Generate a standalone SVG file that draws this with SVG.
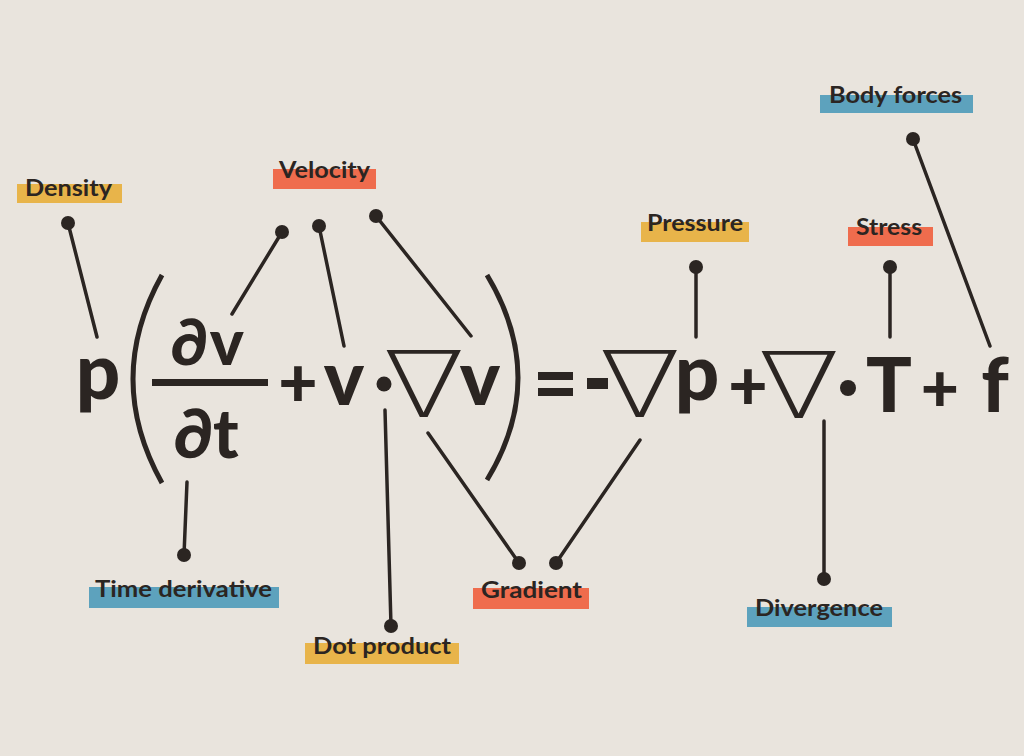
<svg xmlns="http://www.w3.org/2000/svg" width="1024" height="756" viewBox="0 0 1024 756">
<style>
.lbl{font-family:Lato,"Open Sans","DejaVu Sans",sans-serif;font-weight:700;font-size:22px;fill:#2b2522}
.eq{font-family:Lato,"DejaVu Sans",sans-serif;font-weight:900;fill:#2b2522;text-anchor:middle}
.nab{font-family:"DejaVu Sans",sans-serif;font-weight:200;font-size:92px;fill:#2b2522;text-anchor:middle}
.ln{stroke:#2b2522;stroke-width:3.5;fill:none;stroke-linecap:round}
.dot{fill:#2b2522}
.y{fill:#e8b44a}
.o{fill:#ef6c4d}
.b{fill:#5da2bd}
</style>
<rect width="1024" height="756" fill="#e9e4dd"/>
<g id="equation">
<text class="eq" x="98" y="399" font-size="78">p</text>
<path d="M162 275 Q104 379 162 483" fill="none" stroke="#2b2522" stroke-width="5"/>
<text class="eq" x="208" y="365" font-size="64" letter-spacing="2">∂v</text>
<rect x="152" y="379" width="116" height="7" fill="#2b2522"/>
<text class="eq" x="206" y="458" font-size="68">∂t</text>
<text class="eq" x="298" y="407" font-size="68">+</text>
<text class="eq" x="344" y="405" font-size="76">v</text>
<circle cx="384" cy="384" r="7.5" fill="#2b2522"/>
<text class="nab" transform="translate(424 417) scale(1.3 1)">∇</text>
<text class="eq" x="480" y="405" font-size="76">v</text>
<path d="M487 275 Q549 378 487 480" fill="none" stroke="#2b2522" stroke-width="5"/>
<rect x="538" y="372" width="35" height="8" fill="#2b2522"/>
<rect x="538" y="388" width="35" height="8" fill="#2b2522"/>
<rect x="587" y="378" width="21" height="11" fill="#2b2522"/>
<text class="nab" transform="translate(640 417) scale(1.3 1)">∇</text>
<text class="eq" x="697" y="400" font-size="78">p</text>
<text class="eq" x="748" y="410" font-size="68">+</text>
<text class="nab" transform="translate(799 418) scale(1.3 1)">∇</text>
<circle cx="848" cy="388" r="8" fill="#2b2522"/>
<text class="eq" x="889" y="412" font-size="76">T</text>
<text class="eq" x="940" y="412" font-size="66">+</text>
<text class="eq" x="995" y="412" font-size="76">f</text>
</g>
<g id="connectors">
<line class="ln" x1="68" y1="223" x2="97" y2="337"/><circle class="dot" cx="68" cy="223" r="7"/>
<line class="ln" x1="282" y1="232" x2="232" y2="314"/><circle class="dot" cx="282" cy="232" r="7"/>
<line class="ln" x1="319" y1="226" x2="344" y2="346"/><circle class="dot" cx="319" cy="226" r="7"/>
<line class="ln" x1="376" y1="216" x2="471" y2="336"/><circle class="dot" cx="376" cy="216" r="7"/>
<line class="ln" x1="696" y1="267" x2="696" y2="337"/><circle class="dot" cx="696" cy="267" r="7"/>
<line class="ln" x1="890" y1="267" x2="890" y2="337"/><circle class="dot" cx="890" cy="267" r="7"/>
<line class="ln" x1="913" y1="139" x2="990" y2="346"/><circle class="dot" cx="913" cy="139" r="7"/>
<line class="ln" x1="187" y1="482" x2="184" y2="555"/><circle class="dot" cx="184" cy="555" r="7"/>
<line class="ln" x1="385" y1="410" x2="391" y2="626"/><circle class="dot" cx="391" cy="626" r="7"/>
<line class="ln" x1="428" y1="433" x2="519" y2="563"/><circle class="dot" cx="519" cy="563" r="7"/>
<line class="ln" x1="640" y1="440" x2="556" y2="563"/><circle class="dot" cx="556" cy="563" r="7"/>
<line class="ln" x1="824" y1="421" x2="824" y2="579"/><circle class="dot" cx="824" cy="579" r="7"/>
</g>
<g id="density"><rect class="y" x="17" y="184" width="105" height="19"/><text class="lbl" x="25" y="196" textLength="87" lengthAdjust="spacingAndGlyphs">Density</text></g>
<g id="velocity"><rect class="o" x="273" y="169" width="103" height="20"/><text class="lbl" x="279" y="178" textLength="91" lengthAdjust="spacingAndGlyphs">Velocity</text></g>
<g id="pressure"><rect class="y" x="641" y="222" width="108" height="20"/><text class="lbl" x="647" y="231" textLength="96" lengthAdjust="spacingAndGlyphs">Pressure</text></g>
<g id="stress"><rect class="o" x="848" y="227" width="85" height="19"/><text class="lbl" x="856" y="235" textLength="66" lengthAdjust="spacingAndGlyphs">Stress</text></g>
<g id="body-forces"><rect class="b" x="820" y="95" width="153" height="18"/><text class="lbl" x="829" y="103" textLength="133" lengthAdjust="spacingAndGlyphs">Body forces</text></g>
<g id="time-derivative"><rect class="b" x="89" y="587" width="190" height="21"/><text class="lbl" x="95" y="597" textLength="177" lengthAdjust="spacingAndGlyphs">Time derivative</text></g>
<g id="gradient"><rect class="o" x="473" y="588" width="116" height="21"/><text class="lbl" x="481" y="598" textLength="101" lengthAdjust="spacingAndGlyphs">Gradient</text></g>
<g id="dot-product"><rect class="y" x="305" y="643" width="154" height="21"/><text class="lbl" x="313" y="654" textLength="138" lengthAdjust="spacingAndGlyphs">Dot product</text></g>
<g id="divergence"><rect class="b" x="747" y="607" width="145" height="20"/><text class="lbl" x="755" y="616" textLength="128" lengthAdjust="spacingAndGlyphs">Divergence</text></g>
</svg>
